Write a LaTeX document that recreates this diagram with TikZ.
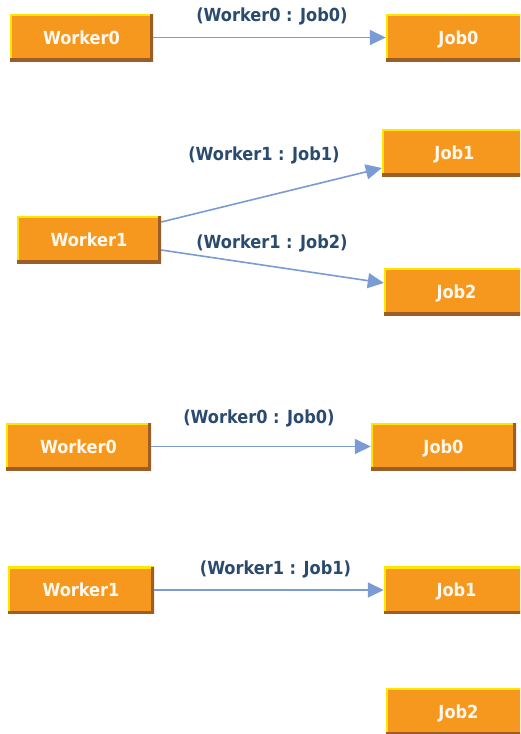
\documentclass[tikz,border=0pt]{standalone}
\usepackage{fontspec}
\setmainfont{DejaVu Sans}
\newfontfamily\condfont{DejaVu Sans Condensed}
\usetikzlibrary{arrows.meta}
\definecolor{boxorange}{HTML}{F7981E}
\definecolor{edgeyellow}{HTML}{FFE600}
\definecolor{edgebrown}{HTML}{9C5E28}
\definecolor{labelblue}{HTML}{2A4A6E}
\definecolor{connblue}{HTML}{7B9BD5}
\definecolor{boxtext}{HTML}{FFF8EE}
\begin{document}
\begin{tikzpicture}[x=1pt,y=-1pt,
  box/.style={rectangle, fill=boxorange, minimum width=145pt, minimum height=47pt,
    inner sep=0pt, text=boxtext, text height=13pt, text depth=0pt,
    font=\condfont\bfseries\fontsize{18}{20}\selectfont,
    path picture={
      \draw[edgeyellow, line width=4pt] (path picture bounding box.south west) -- (path picture bounding box.north west) -- (path picture bounding box.north east);
      \draw[edgebrown, line width=6pt] (path picture bounding box.north east) -- (path picture bounding box.south east) -- (path picture bounding box.south west);
    }},
  lab/.style={text=labelblue, inner sep=0pt, font=\condfont\bfseries\fontsize{18}{20}\selectfont},
  conn/.style={draw=connblue, line width=1.6pt, -{Triangle[length=16pt,width=15pt]}}
]
\useasboundingbox (0,0) rectangle (520,734);
\clip (0,0) rectangle (520,734);
\fill[white] (0,0) rectangle (520,734);

% group 1
\node[box, minimum width=143pt] (W0a) at (81.5,37.5) {Worker0};
\node[box] (J0a) at (458.5,37.5) {Job0};
\node[lab] (L1) at (272,16.5) {(Worker0 : Job0)};
\draw[conn] (W0a) -- (J0a);

% group 2
\node[box, minimum width=144pt] (W1a) at (89,239.5) {Worker1};
\node[box] (J1a) at (454.5,152.5) {Job1};
\node[box] (J2a) at (456.5,291.5) {Job2};
\node[lab] (L2) at (264,155) {(Worker1 : Job1)};
\node[lab] (L3) at (272,243) {(Worker1 : Job2)};
\draw[conn] ([yshift=17.5pt]W1a.east) -- ([yshift=-15.5pt]J1a.west);
\draw[conn] ([yshift=-10.5pt]W1a.east) -- ([yshift=8.5pt]J2a.west);

% group 3
\node[box] (W0b) at (78.5,446.5) {Worker0};
\node[box] (J0b) at (443.5,446.5) {Job0};
\node[lab] (L4) at (259,418.5) {(Worker0 : Job0)};
\draw[conn] (W0b) -- (J0b);

% group 4
\node[box, minimum width=146pt] (W1b) at (81,590) {Worker1};
\node[box] (J1b) at (456.5,590) {Job1};
\node[lab] (L5) at (275.5,569.5) {(Worker1 : Job1)};
\draw[conn] (W1b) -- (J1b);

\node[box] (J2b) at (458.5,711.5) {Job2};
\end{tikzpicture}
\end{document}
